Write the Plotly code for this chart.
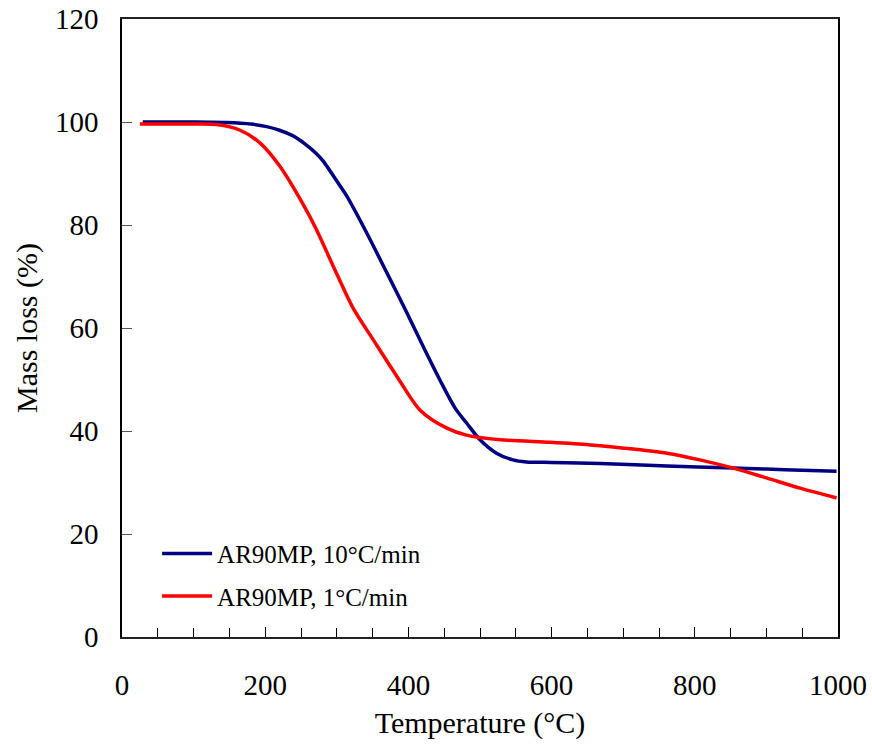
import plotly.graph_objects as go

temp_10 = [29, 100, 146, 180, 202, 220, 239, 255, 272, 281, 304, 314, 342, 370, 398, 421, 444, 465, 481, 500, 523, 546, 565, 600, 668, 761, 854, 900, 950, 998]
mass_10 = [100.0, 100.0, 99.9, 99.6, 99.1, 98.4, 97.3, 95.8, 93.8, 92.4, 87.7, 85.6, 78.4, 70.7, 62.9, 56.3, 49.9, 44.5, 41.6, 38.3, 35.7, 34.4, 34.0, 33.9, 33.7, 33.2, 32.8, 32.6, 32.4, 32.2]

temp_1 = [25, 100, 132, 165, 193, 221, 253, 272, 295, 323, 351, 384, 416, 453, 481, 528, 598, 654, 714, 761, 807, 854, 900, 947, 998]
mass_1 = [99.6, 99.6, 99.5, 98.4, 95.9, 91.3, 84.0, 79.0, 72.0, 63.8, 57.7, 50.6, 44.1, 40.6, 39.2, 38.3, 37.8, 37.3, 36.5, 35.7, 34.4, 32.8, 30.9, 28.9, 27.0]

names = ["AR90MP, 10°C/min", "AR90MP, 1°C/min"]
colors = ["#000080", "#FF0000"]

fig = go.Figure()
fig.add_trace(go.Scatter(x=temp_10, y=mass_10, mode="lines", name=names[0], legendgroup="a",
                         line=dict(color=colors[0], width=3.5, shape="spline", smoothing=0.8)))
fig.add_trace(go.Scatter(x=temp_1, y=mass_1, mode="lines", name=names[1], legendgroup="b",
                         line=dict(color=colors[1], width=3.5, shape="spline", smoothing=0.8)))

font = "Liberation Serif, Times New Roman, serif"
fig.update_layout(
    width=872, height=747,
    margin=dict(l=122, r=34, t=19, b=110),
    paper_bgcolor="white", plot_bgcolor="white",
    font=dict(family=font, size=29, color="black"),
    showlegend=True,
    legend=dict(x=0.049, y=0.172, xanchor="left", yanchor="top",
                font=dict(family=font, size=25, color="black"),
                bgcolor="rgba(0,0,0,0)", traceorder="grouped", tracegroupgap=7, itemwidth=50),
    xaxis=dict(range=[0, 1000], tickvals=[0, 200, 400, 600, 800, 1000],
               ticks="inside", ticklen=10, tickcolor="black", tickwidth=1,
               minor=dict(dtick=50, ticks="inside", ticklen=9, tickcolor="black", showgrid=False),
               showline=True, linecolor="#222", linewidth=2, mirror=True,
               showgrid=False, zeroline=False, ticklabelstandoff=21, automargin=False,
               title=dict(text="Temperature (°C)", font=dict(size=30), standoff=12),
               tickfont=dict(size=29)),
    yaxis=dict(range=[0, 120], dtick=20,
               ticks="inside", ticklen=10, tickcolor="#555", tickwidth=1,
               showline=True, linecolor="black", linewidth=1.5, mirror=True,
               showgrid=False, zeroline=False, ticklabelstandoff=16, automargin=False,
               title=dict(text="Mass loss (%)", font=dict(size=30), standoff=8),
               tickfont=dict(size=29)),
)

fig.write_html("out.html")
